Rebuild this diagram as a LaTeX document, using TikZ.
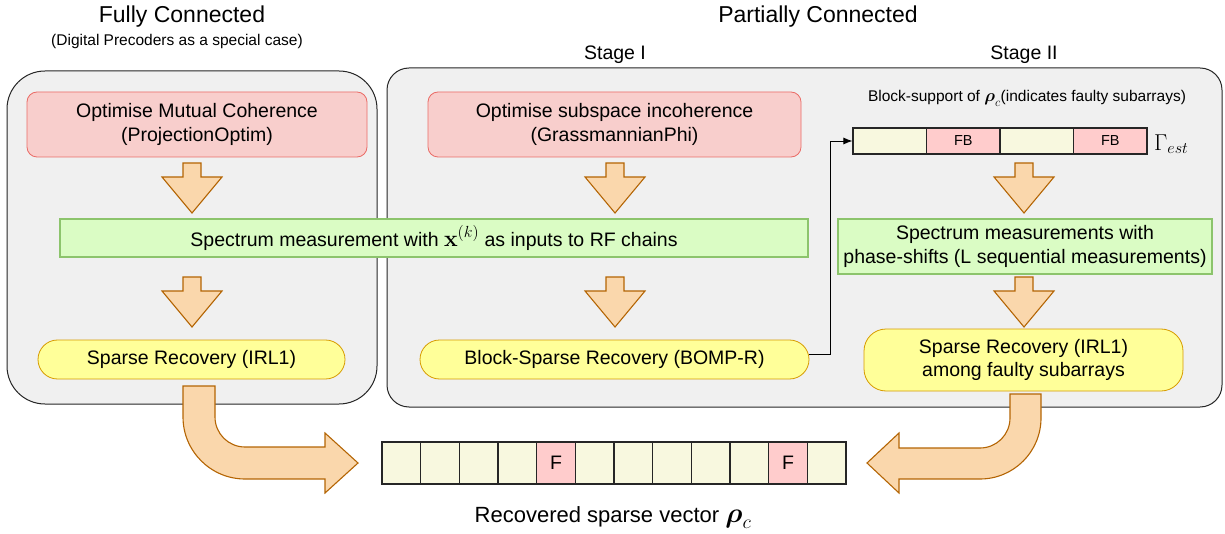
\RequirePackage{fix-cm}
\documentclass[tikz,border=0pt]{standalone}
\usepackage{amsmath,amssymb}
\usepackage[no-math]{fontspec}
\setmainfont{Liberation Sans}
\usetikzlibrary{arrows.meta}
\definecolor{grpbg}{HTML}{F0F0F0}
\definecolor{pinkfill}{HTML}{F8CECC}
\definecolor{pinkdraw}{HTML}{EA6B66}
\definecolor{greenfill}{HTML}{DAFCC4}
\definecolor{greendraw}{HTML}{8CC46C}
\definecolor{yelfill}{HTML}{FFFF99}
\definecolor{yeldraw}{HTML}{D79B00}
\definecolor{arrfill}{HTML}{FAD7AC}
\definecolor{arrdraw}{HTML}{B46504}
\definecolor{creamc}{HTML}{F8F8DF}
\definecolor{fpinkc}{HTML}{FFCCCC}
\newcommand\szmain{\fontsize{19.5}{23.5}\selectfont}
\newcommand\szsmall{\fontsize{15.5}{18}\selectfont}
\newcommand\sztitle{\fontsize{23}{27}\selectfont}
\begin{document}
\begin{tikzpicture}[x=1pt,y=-1pt,
  grp/.style={draw=black!85, fill=grpbg, line width=1pt, inner sep=0pt},
  pinkbox/.style={draw=pinkdraw, fill=pinkfill, rounded corners=10pt, line width=0.8pt, align=center, inner sep=0pt, font=\szmain},
  greenbox/.style={draw=greendraw, fill=greenfill, line width=1.2pt, align=center, inner sep=0pt, font=\szmain},
  yelbox/.style={draw=yeldraw, fill=yelfill, line width=0.8pt, align=center, inner sep=0pt, font=\szmain},
  fatarr/.style={draw=arrdraw, fill=arrfill, line width=1.1pt, line join=miter},
  cell/.style={draw=black!85, line width=1.1pt, inner sep=0pt},
  lbl/.style={inner sep=0pt, anchor=base},
  conn/.style={draw=black, line width=0.9pt, -{Latex[length=9pt,width=7pt]}},
  fatdown/.pic={\draw[fatarr] (-9,0) -- (9,0) -- (9,14) -- (30,14) -- (0,50) -- (-30,14) -- (-9,14) -- cycle;}
]
\useasboundingbox (0,0) rectangle (1225,534);

% titles
\node[lbl, font=\sztitle] (tfc) at (182,23) {Fully Connected};
\node[lbl, font=\szsmall] (tdp) at (177,46) {(Digital Precoders as a special case)};
\node[lbl, font=\sztitle] (tpc) at (818,23) {Partially Connected};
\node[lbl, font=\szmain] (ts1) at (615,60) {Stage I};
\node[lbl, font=\szmain] (ts2) at (1024,60) {Stage II};

% group boxes
\node[grp, rounded corners=38pt, minimum width=370, minimum height=333] (gfc) at (192,237.5) {};
\node[grp, rounded corners=22pt, minimum width=835, minimum height=339] (gpc) at (804.5,237.5) {};

% pink boxes
\node[pinkbox, minimum width=340, minimum height=65] (optL) at (197,124.5) {Optimise Mutual Coherence\\(ProjectionOptim)};
\node[pinkbox, minimum width=373, minimum height=65] (optR) at (614.5,124.5) {Optimise subspace incoherence\\(GrassmannianPhi)};

% green boxes
\node[greenbox, minimum width=748, minimum height=38] (meas) at (434,238) {Spectrum measurement with {\fontsize{23}{26}\selectfont$\mathbf{x}^{(k)}$} as inputs to RF chains};
\node[greenbox, minimum width=374, minimum height=55] (meas2) at (1025,246.5) {Spectrum measurements with\\phase-shifts (L sequential measurements)};

% yellow boxes
\node[yelbox, rounded corners=19.5pt, minimum width=307, minimum height=39] (srL) at (191.5,359.5) {Sparse Recovery (IRL1)};
\node[yelbox, rounded corners=19.5pt, minimum width=389, minimum height=39] (bsr) at (614.5,359.5) {Block-Sparse Recovery (BOMP-R)};
\node[yelbox, rounded corners=22pt, minimum width=319, minimum height=62] (srR) at (1023.5,360) {Sparse Recovery (IRL1)\\among faulty subarrays};

% block-support label and bar
\node[lbl, font=\szsmall] (bsl) at (1027,102) {Block-support of {\fontsize{17.5}{20}\selectfont$\boldsymbol{\rho}_c$}(indicates faulty subarrays)};
\foreach \i/\c/\t in {1/creamc/{},2/fpinkc/FB,3/creamc/{},4/fpinkc/FB}{
  \node[cell, fill=\c, minimum width=73.5, minimum height=26, font=\fontsize{14.5}{17}\selectfont] (bs\i) at ({853+(\i-0.5)*73.5},141) {\t};
}
\node[inner sep=0pt, anchor=west, font=\fontsize{23}{26}\selectfont] (gam) at (1154,144) {$\Gamma_{est}$};

% recovered vector
\foreach \i/\c/\t in {1/creamc/{},2/creamc/{},3/creamc/{},4/creamc/{},5/fpinkc/F,6/creamc/{},7/creamc/{},8/creamc/{},9/creamc/{},10/creamc/{},11/fpinkc/F,12/creamc/{}}{
  \node[cell, fill=\c, minimum width=38.67, minimum height=42, font=\szmain] (v\i) at ({382+(\i-0.5)*38.667},463) {\t};
}
\node[lbl, font=\fontsize{22}{26}\selectfont] (rsv) at (613,522) {Recovered sparse vector {\fontsize{28}{30}\selectfont$\boldsymbol{\rho}_c$}};

% fat down arrows
\pic at (192,163) {fatdown};
\pic at (192,277) {fatdown};
\pic at (615,163) {fatdown};
\pic at (615,277) {fatdown};
\pic at (1024,163) {fatdown};
\pic at (1024,277) {fatdown};

% curved fat arrows
\draw[fatarr] (183,386) -- (215,386) -- (215,417) .. controls (215,433.6) and (228.4,447) .. (245,447) -- (325,447) -- (325,433) -- (358,463) -- (325,493) -- (325,479) -- (245,479) .. controls (210.8,479) and (183,451.2) .. (183,417) -- cycle;
\draw[fatarr] (1010,394) -- (1041,394) -- (1041,418) .. controls (1041,451.7) and (1013.7,479) .. (980,479) -- (899,479) -- (899,493) -- (867,463) -- (899,433) -- (899,448) -- (980,448) .. controls (996.6,448) and (1010,434.6) .. (1010,418) -- cycle;

% connector
\draw[conn] ([yshift=5pt]bsr.east) -- ++(21,0) |- (bs1.west);
\end{tikzpicture}
\end{document}
